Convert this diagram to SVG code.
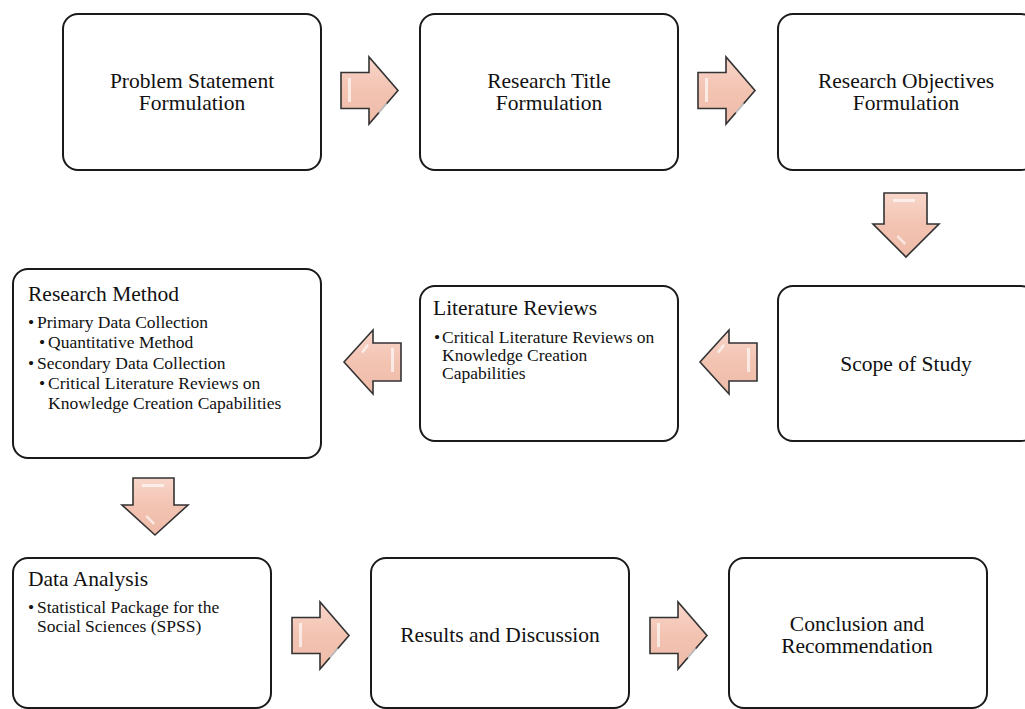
<svg xmlns="http://www.w3.org/2000/svg" width="1025" height="709" viewBox="0 0 1025 709">
<defs>
<linearGradient id="ag" x1="0" y1="0" x2="0" y2="1">
<stop offset="0" stop-color="#f8d6ca"/>
<stop offset="0.5" stop-color="#f3c3b2"/>
<stop offset="1" stop-color="#efbba8"/>
</linearGradient>
</defs>
<style>
.box{fill:#fff;stroke:#1a1a1a;stroke-width:2}
.arr{fill:url(#ag);stroke:#333;stroke-width:1.6;stroke-linejoin:miter}
.hl{fill:#fff;opacity:0.65}
.t{font-family:"Liberation Serif","Times New Roman",serif;fill:#111}
.c{font-size:21.5px;text-anchor:middle}
.h{font-size:21.5px}
.b{font-size:17.5px}
</style>
<rect width="1025" height="709" fill="#fff"/>
<g id="connectors">
<path class="arr" d="M341,72.5 H369 V57 L398,90.5 L369,124 V108.5 H341 Z"/>
<path class="hl" d="M348,78 h3 v24 h-3 z M378,112 l8,-9 l2,1.5 l-8,9 z"/>
<path class="arr" d="M698,72.5 H726 V57 L755,90.5 L726,124 V108.5 H698 Z"/>
<path class="hl" d="M705,78 h3 v24 h-3 z M735,112 l8,-9 l2,1.5 l-8,9 z"/>
<path class="arr" d="M884,193 H927 V224 H939 L906,257 L873,224 H884 Z"/>
<path class="hl" d="M893,199 h22 v3 h-22 z M898,235 l8,8 l-1.5,2 l-8,-8 z"/>
<path class="arr" d="M401,343 H373 V330 L344,362 L373,394 V381 H401 Z"/>
<path class="hl" d="M391,348 h3 v24 h-3 z M361,352 l6,-8 l2,1.5 l-6,8 z"/>
<path class="arr" d="M757,343 H729 V330 L700,362 L729,394 V381 H757 Z"/>
<path class="hl" d="M747,348 h3 v24 h-3 z M717,352 l6,-8 l2,1.5 l-6,8 z"/>
<path class="arr" d="M133,478 H174 V505 H188 L155,535 L122,505 H133 Z"/>
<path class="hl" d="M142,484 h22 v3 h-22 z M147,515 l8,8 l-1.5,2 l-8,-8 z"/>
<path class="arr" d="M292,617.5 H320 V602 L349,635.5 L320,669 V653.5 H292 Z"/>
<path class="hl" d="M299,623 h3 v24 h-3 z M329,657 l8,-9 l2,1.5 l-8,9 z"/>
<path class="arr" d="M650,617.5 H678 V602 L707,635.5 L678,669 V653.5 H650 Z"/>
<path class="hl" d="M657,623 h3 v24 h-3 z M687,657 l8,-9 l2,1.5 l-8,9 z"/>
</g>
<g id="problem">
<rect class="box" x="63" y="14" width="258" height="156" rx="15"/>
<text class="t c" x="192" y="87.5">Problem Statement</text>
<text class="t c" x="192" y="109.5">Formulation</text>
</g>
<g id="title">
<rect class="box" x="420" y="14" width="258" height="156" rx="15"/>
<text class="t c" x="549" y="87.5">Research Title</text>
<text class="t c" x="549" y="109.5">Formulation</text>
</g>
<g id="objectives">
<rect class="box" x="778" y="14" width="258" height="156" rx="15"/>
<text class="t c" x="906" y="87.5">Research Objectives</text>
<text class="t c" x="906" y="109.5">Formulation</text>
</g>
<g id="scope">
<rect class="box" x="778" y="286" width="258" height="155" rx="15"/>
<text class="t c" x="906" y="370.5">Scope of Study</text>
</g>
<g id="literature">
<rect class="box" x="420" y="286" width="258" height="155" rx="15"/>
<text class="t h" x="433" y="315">Literature Reviews</text>
<text class="t b" x="434" y="343">•</text>
<text class="t b" x="442" y="343">Critical Literature Reviews on</text>
<text class="t b" x="442" y="361">Knowledge Creation</text>
<text class="t b" x="442" y="379">Capabilities</text>
</g>
<g id="method">
<rect class="box" x="13" y="269" width="308" height="189" rx="15"/>
<text class="t h" x="28" y="301">Research Method</text>
<text class="t b" x="28" y="328">•</text>
<text class="t b" x="37" y="328">Primary Data Collection</text>
<text class="t b" x="39" y="348">•</text>
<text class="t b" x="48" y="348">Quantitative Method</text>
<text class="t b" x="28" y="369">•</text>
<text class="t b" x="37" y="369">Secondary Data Collection</text>
<text class="t b" x="39" y="389">•</text>
<text class="t b" x="48" y="389">Critical Literature Reviews on</text>
<text class="t b" x="48" y="409">Knowledge Creation Capabilities</text>
</g>
<g id="analysis">
<rect class="box" x="13" y="558" width="258" height="150" rx="15"/>
<text class="t h" x="28" y="586">Data Analysis</text>
<text class="t b" x="28" y="613">•</text>
<text class="t b" x="37" y="613">Statistical Package for the</text>
<text class="t b" x="37" y="632">Social Sciences (SPSS)</text>
</g>
<g id="results">
<rect class="box" x="371" y="558" width="258" height="150" rx="15"/>
<text class="t c" x="500" y="642">Results and Discussion</text>
</g>
<g id="conclusion">
<rect class="box" x="729" y="558" width="258" height="150" rx="15"/>
<text class="t c" x="857" y="631">Conclusion and</text>
<text class="t c" x="857" y="653">Recommendation</text>
</g>
</svg>
